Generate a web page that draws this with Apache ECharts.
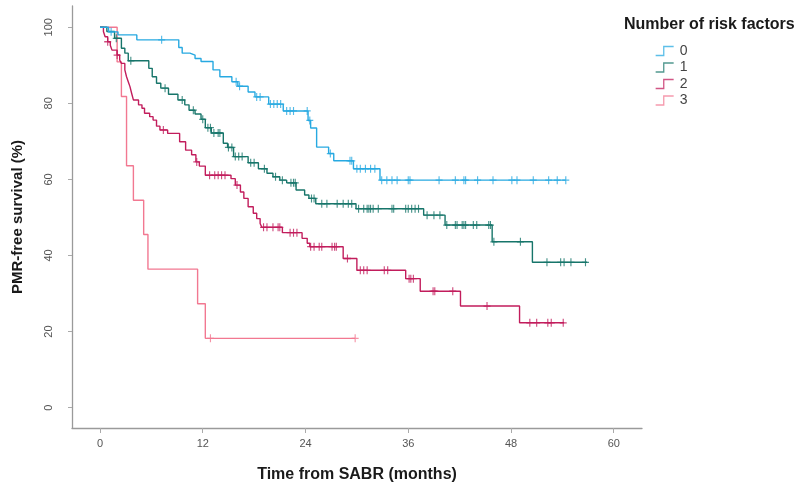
<!DOCTYPE html>
<html>
<head>
<meta charset="utf-8">
<script src="https://cdn.jsdelivr.net/npm/echarts@6/dist/echarts.min.js"></script>
<style>
html, body { margin: 0; padding: 0; background: #fff; }
#chart { width: 796px; height: 488px; }
</style>
</head>
<body>
<div id="chart"></div>
<script>
// step points [months, survival %] per number of risk factors
const steps0 = [[0,100],[1.0,98.8],[2.1,98.0],[4.3,96.7],[9.2,94.7],[9.6,93.2],[10.5,92.7],[11.1,91.8],[11.8,91.0],[13.2,88.8],[14.0,87.0],[15.4,85.7],[16.1,84.5],[17.3,83.0],[18.1,81.7],[19.7,79.8],[21.4,78.0],[24.3,75.5],[24.6,73.5],[25.3,68.5],[26.7,66.8],[27.3,64.9],[29.6,62.8],[32.7,59.8]]
const end0 = 54.4
const censor0 = [1.3,7.2,15.9,16.3,18.3,18.7,19.9,20.3,20.7,21.1,21.8,22.2,22.6,24.2,24.5,26.9,29.2,29.4,30.0,30.4,31.0,31.6,32.1,32.9,33.5,34.1,34.7,36.0,36.2,39.6,41.5,42.5,42.7,44.1,45.9,48.1,48.7,50.6,52.4,53.4,54.4]

const steps1 = [[0,100],[0.8,98.9],[1.7,97.1],[2.5,94.5],[2.9,93.2],[3.3,91.2],[5.7,89.2],[6.1,87.0],[6.6,85.3],[7.1,84.0],[8.0,82.4],[9.1,80.9],[9.9,79.6],[10.4,78.2],[11.1,77.2],[11.8,75.8],[12.3,73.6],[13.0,72.2],[14.4,69.5],[14.9,68.4],[15.6,66.0],[17.3,64.4],[18.5,62.8],[19.5,61.6],[20.2,60.7],[21.0,59.8],[21.8,59.1],[22.9,57.2],[23.9,55.9],[24.4,55.0],[25.2,53.6],[29.9,52.3],[37.8,50.6],[40.3,48.0],[45.8,43.6],[50.5,38.2]]
const end1 = 56.9
const censor1 = [1.9,3.6,7.6,9.6,10.9,12.0,12.6,12.9,13.3,13.8,14.0,15.0,15.4,15.8,16.2,16.6,17.6,18.0,19.2,20.5,21.3,22.3,22.6,22.8,24.7,25.0,25.9,26.5,27.7,28.4,29.0,29.4,30.2,30.8,31.2,31.4,31.6,31.9,32.5,34.1,34.3,35.7,36.0,36.4,36.8,37.2,38.2,39.0,39.7,40.5,41.5,41.7,42.3,42.5,42.7,43.6,44.0,45.4,45.6,46.0,49.1,52.2,53.8,54.2,55.0,56.7]

const steps2 = [[0,100],[0.4,98.9],[0.6,97.5],[0.9,96.2],[1.2,95.3],[1.4,94.0],[2.0,92.7],[2.3,91.4],[2.5,90.5],[2.9,88.8],[3.1,87.0],[3.3,85.7],[3.5,84.4],[3.7,82.6],[3.9,80.9],[4.5,79.6],[4.9,78.7],[5.2,77.4],[5.8,76.5],[6.2,75.6],[6.6,74.0],[7.0,73.0],[7.9,72.1],[9.3,69.9],[10.0,67.7],[10.7,66.5],[11.2,64.6],[11.6,63.5],[12.3,61.1],[15.3,60.2],[15.8,58.5],[16.4,56.7],[16.8,55.0],[17.3,52.8],[17.9,51.1],[18.3,49.7],[18.7,48.4],[18.9,47.4],[21.3,46.0],[23.6,44.5],[24.2,43.2],[24.5,42.3],[28.4,39.2],[30.0,36.1],[35.7,33.9],[37.4,30.6],[42.1,26.7],[49.0,22.3]]
const end2 = 54.2
const censor2 = [0.9,2.0,7.4,11.3,12.8,13.4,13.8,14.2,14.6,16.0,19.1,19.5,20.2,20.8,21.0,22.2,22.6,23.0,24.6,25.0,25.6,25.9,27.1,27.4,27.6,28.9,30.4,30.8,31.2,33.2,33.6,36.1,36.3,36.6,38.9,39.1,41.2,45.2,50.2,51.0,52.3,52.7,54.1]

const steps3 = [[0,100],[2.0,90.9],[2.5,81.8],[3.1,63.6],[3.9,54.5],[5.1,45.5],[5.6,36.4],[11.4,27.3],[12.3,18.2]]
const end3 = 29.8
const censor3 = [12.9,29.8]

const groupNames = ['0', '1', '2', '3']
const xTicks = [0, 12, 24, 36, 48, 60]
const yTicks = [0, 20, 40, 60, 80, 100]

const colors = ['#27a9e1', '#17756a', '#c21d5c', '#f27891']
const groups = [
	{ steps: steps0, end: end0, censor: censor0 },
	{ steps: steps1, end: end1, censor: censor1 },
	{ steps: steps2, end: end2, censor: censor2 },
	{ steps: steps3, end: end3, censor: censor3 }
]

const survAt = (steps, t) => {
	let v = steps[0][1]
	steps.forEach(([tt, vv]) => {
		if (tt <= t) v = vv
	})
	return v
}

const plusPath = 'path://M5,0L5,10M0,5L10,5'
const stepIcon = 'path://M0,10L9,10L9,0L20,0'
const font = 'Liberation Sans'

const series = []
groups.forEach((g, i) => {
	const last = g.steps[g.steps.length - 1][1]
	series.push({
		name: groupNames[i],
		type: 'line',
		step: 'end',
		showSymbol: false,
		color: colors[i],
		lineStyle: { width: 1.4, color: colors[i] },
		data: g.steps.concat([[g.end, last]]),
		z: 4 - i
	})
	series.push({
		name: groupNames[i] + ' censored',
		type: 'scatter',
		symbol: plusPath,
		symbolSize: [7, 8],
		itemStyle: { color: 'transparent', borderColor: colors[i], borderWidth: 1.2 },
		data: g.censor.map((t) => [t, survAt(g.steps, t)]),
		z: 4 - i
	})
})

const chart = echarts.init(document.getElementById('chart'), null, { renderer: 'canvas' })

const option = {
	animation: false,
	backgroundColor: '#fff',
	textStyle: { fontFamily: font },
	title: {
		text: 'Number of risk factors',
		left: 624,
		top: 17,
		padding: 0,
		textStyle: { fontFamily: font, fontSize: 16, fontWeight: 'bold', color: '#1a1a1a' }
	},
	legend: {
		orient: 'vertical',
		left: 655,
		top: 44,
		padding: 0,
		itemWidth: 24,
		itemHeight: 9,
		itemGap: 2.5,
		selectedMode: false,
		textStyle: { fontFamily: font, fontSize: 14, lineHeight: 14, color: '#444', padding: [0, 0, 0, -2] },
		data: groupNames.map((n, i) => ({
			name: n,
			icon: stepIcon,
			itemStyle: { color: 'transparent', borderColor: colors[i], borderWidth: 1.3, opacity: 0.75 }
		}))
	},
	grid: {
		left: 72,
		right: 154,
		top: 6,
		bottom: 60
	},
	xAxis: {
		type: 'value',
		min: -3.27,
		max: 63.3,
		name: 'Time from SABR (months)',
		nameLocation: 'middle',
		nameGap: 39,
		nameTextStyle: { fontFamily: font, fontSize: 16, fontWeight: 'bold', color: '#1a1a1a' },
		splitLine: { show: false },
		axisLine: { onZero: false, lineStyle: { color: '#9a9a9a', width: 1.3 } },
		axisTick: { length: 5, customValues: xTicks, lineStyle: { color: '#aaa' } },
		axisLabel: { customValues: xTicks, margin: 10, fontSize: 11, color: '#555', fontFamily: font }
	},
	yAxis: {
		type: 'value',
		min: -5.37,
		max: 105.6,
		name: 'PMR-free survival (%)',
		nameLocation: 'middle',
		nameGap: 47,
		nameTextStyle: { fontFamily: font, fontSize: 15, fontWeight: 'bold', color: '#1a1a1a' },
		splitLine: { show: false },
		axisLine: { show: true, onZero: false, lineStyle: { color: '#9a9a9a', width: 1.3 } },
		axisTick: { show: true, length: 4, customValues: yTicks, lineStyle: { color: '#aaa' } },
		axisLabel: {
			customValues: yTicks,
			rotate: 90,
			margin: 18,
			align: 'center',
			verticalAlign: 'bottom',
			fontSize: 11,
			color: '#555',
			fontFamily: font
		}
	},
	series: series
}

chart.setOption(option)
</script>
</body>
</html>
